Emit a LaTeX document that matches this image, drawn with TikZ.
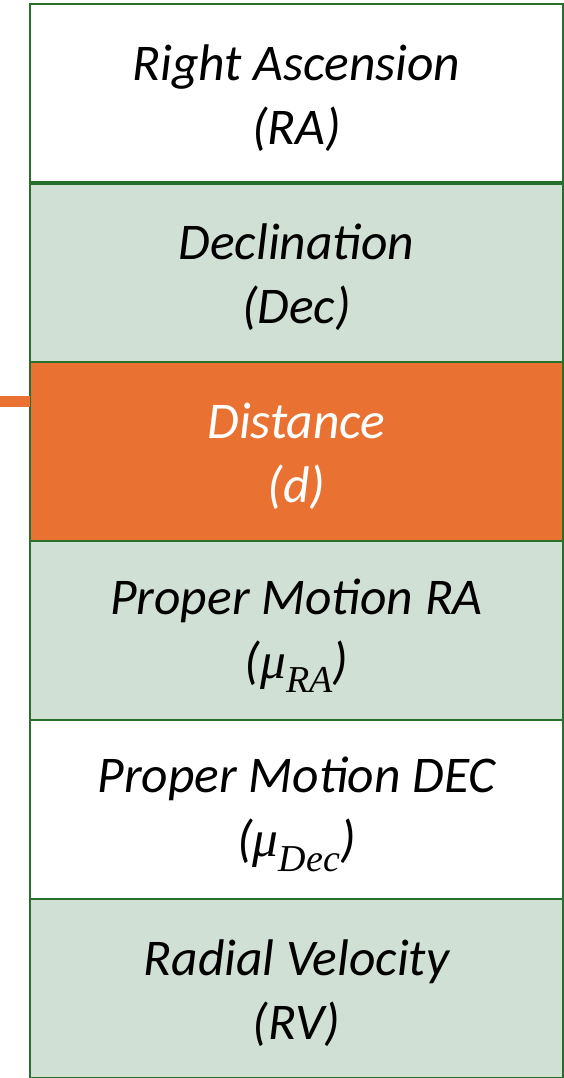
\documentclass[tikz,border=0pt]{standalone}
\usepackage{fontspec}
\setmainfont{Carlito}
\newfontfamily\mufont{Liberation Serif}
\definecolor{bordergreen}{RGB}{38,112,44}
\definecolor{lightgreen}{RGB}{209,224,212}
\definecolor{accentorange}{RGB}{233,114,51}
\begin{document}
\begin{tikzpicture}[x=1pt,y=-1pt,
  rowbox/.style={draw=bordergreen, line width=2pt, minimum width=533pt, minimum height=179pt,
    inner sep=0pt, outer sep=0pt},
  greenrow/.style={rowbox, fill=lightgreen},
  whiterow/.style={rowbox, fill=white},
  orangerow/.style={rowbox, fill=accentorange},
  label text/.style={align=center, inner sep=0pt, yshift=-5pt,
    font=\fontsize{51.5}{64}\selectfont\itshape},
  link/.style={draw=accentorange, line width=11pt}]
\useasboundingbox (0,0) rectangle (564,1078);
\newcommand{\mysub}[2]{({\mufont\itshape #1}\raisebox{-0.28em}{\fontsize{38}{38}\selectfont\mufont\itshape #2})}
\node[whiterow]  (ra)   at (296.5,93.5)  {};
\node[greenrow]  (dec)  at (296.5,272.5) {};
\node[orangerow] (dist) at (296.5,451.5) {};
\node[greenrow]  (pmra) at (296.5,630.5) {};
\node[whiterow]  (pmde) at (296.5,809.5) {};
\node[greenrow]  (rv)   at (296.5,988)   {};
\draw[bordergreen, line width=4pt] (ra.south west) -- (ra.south east);
\node[label text] (ratx)   at (ra.center)   {Right Ascension\\(RA)};
\node[label text] (dectx)  at (dec.center)  {Declination\\(Dec)};
\node[label text, text=white] (disttx) at (dist.center) {Distance\\(d)};
\node[label text] (pmratx) at (pmra.center) {Proper Motion RA\\\mysub{μ}{RA}};
\node[label text] (pmdetx) at (pmde.center) {Proper Motion DEC\\\mysub{μ}{Dec}};
\node[label text] (rvtx)   at (rv.center)   {Radial Velocity\\(RV)};
\coordinate (src) at (0,401.5);
\draw[link] (src) -- (dist.west |- src);
\end{tikzpicture}
\end{document}
